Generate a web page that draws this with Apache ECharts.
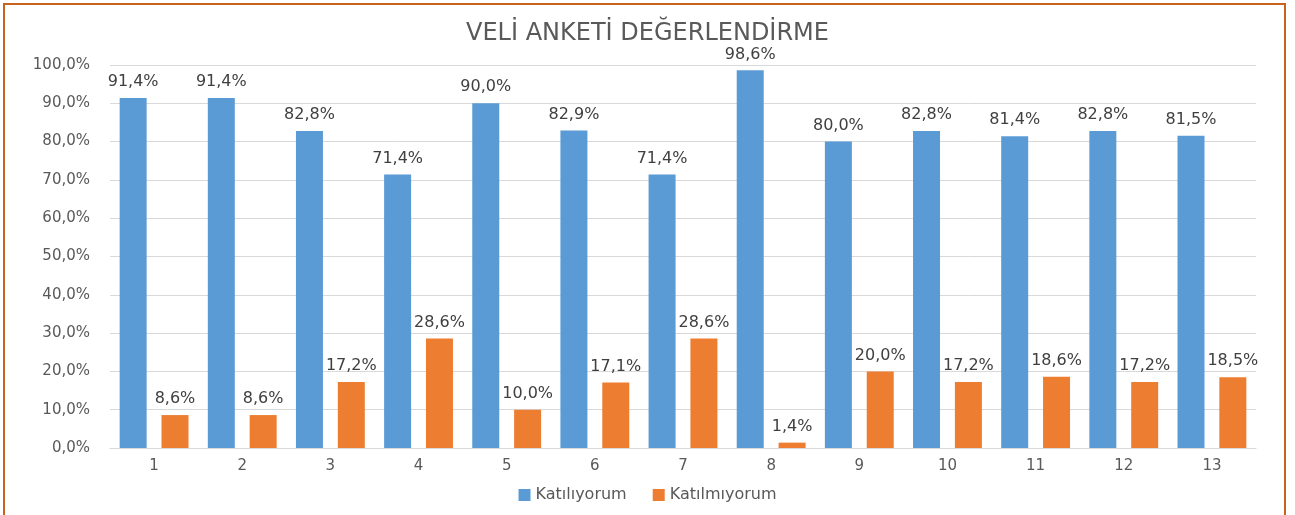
<!DOCTYPE html>
<html>
<head>
<meta charset="utf-8">
<script src="https://cdn.jsdelivr.net/npm/echarts@6/dist/echarts.min.js"></script>
<style>
  html, body { margin: 0; padding: 0; background: #fff; }
  #chart { width: 1295px; height: 515px; }
  /* turuncu çerçeve */
  #frame {
    position: absolute; left: 3px; top: 3px; width: 1279px; height: 530px;
    border: 2px solid #C8631F; pointer-events: none;
  }
</style>
</head>
<body>
<div id="chart"></div>
<div id="frame"></div>
<script>
// veriler
var categories = ['1', '2', '3', '4', '5', '6', '7', '8', '9', '10', '11', '12', '13'];
var katiliyorum = [91.4, 91.4, 82.8, 71.4, 90.0, 82.9, 71.4, 98.6, 80.0, 82.8, 81.4, 82.8, 81.5];
var katilmiyorum = [8.6, 8.6, 17.2, 28.6, 10.0, 17.1, 28.6, 1.4, 20.0, 17.2, 18.6, 17.2, 18.5];

var fontName = 'DejaVu Sans';
function pct(v) { return v.toFixed(1).replace('.', ',') + '%'; }

var myChart = echarts.init(document.getElementById('chart'));
myChart.setOption({
  animation: false,
  color: ['#5B9BD5', '#ED7D31'],
  title: {
    text: 'VELİ ANKETİ DEĞERLENDİRME',
    left: 'center',
    top: 17,
    textStyle: { color: '#595959', fontFamily: fontName, fontSize: 24, fontWeight: 'normal' }
  },
  legend: {
    data: ['Katılıyorum', 'Katılmıyorum'],
    bottom: 7,
    left: 'center',
    itemWidth: 12,
    itemHeight: 12,
    itemGap: 26,
    icon: 'rect',
    textStyle: { color: '#595959', fontFamily: fontName, fontSize: 16 }
  },
  grid: { left: 110, right: 39, top: 65, bottom: 67 },
  xAxis: {
    type: 'category',
    data: categories,
    axisTick: { show: false },
    axisLine: { lineStyle: { color: '#d9d9d9' } },
    axisLabel: { color: '#595959', fontFamily: fontName, fontSize: 15, margin: 11 }
  },
  yAxis: {
    type: 'value',
    min: 0,
    max: 100,
    interval: 10,
    axisLine: { show: false },
    axisTick: { show: false },
    splitLine: { lineStyle: { color: '#d9d9d9' } },
    axisLabel: {
      color: '#595959', fontFamily: fontName, fontSize: 15, margin: 20,
      formatter: function (v) { return pct(v); }
    }
  },
  series: [
    {
      name: 'Katılıyorum',
      type: 'bar',
      data: katiliyorum,
      barWidth: 27,
      barGap: '55%',
      label: {
        show: true, position: 'top', distance: 8,
        color: '#404040', fontFamily: fontName, fontSize: 16,
        formatter: function (p) { return pct(p.value); }
      }
    },
    {
      name: 'Katılmıyorum',
      type: 'bar',
      data: katilmiyorum,
      barWidth: 27,
      label: {
        show: true, position: 'top', distance: 8,
        color: '#404040', fontFamily: fontName, fontSize: 16,
        formatter: function (p) { return pct(p.value); }
      }
    }
  ]
});
</script>
</body>
</html>
